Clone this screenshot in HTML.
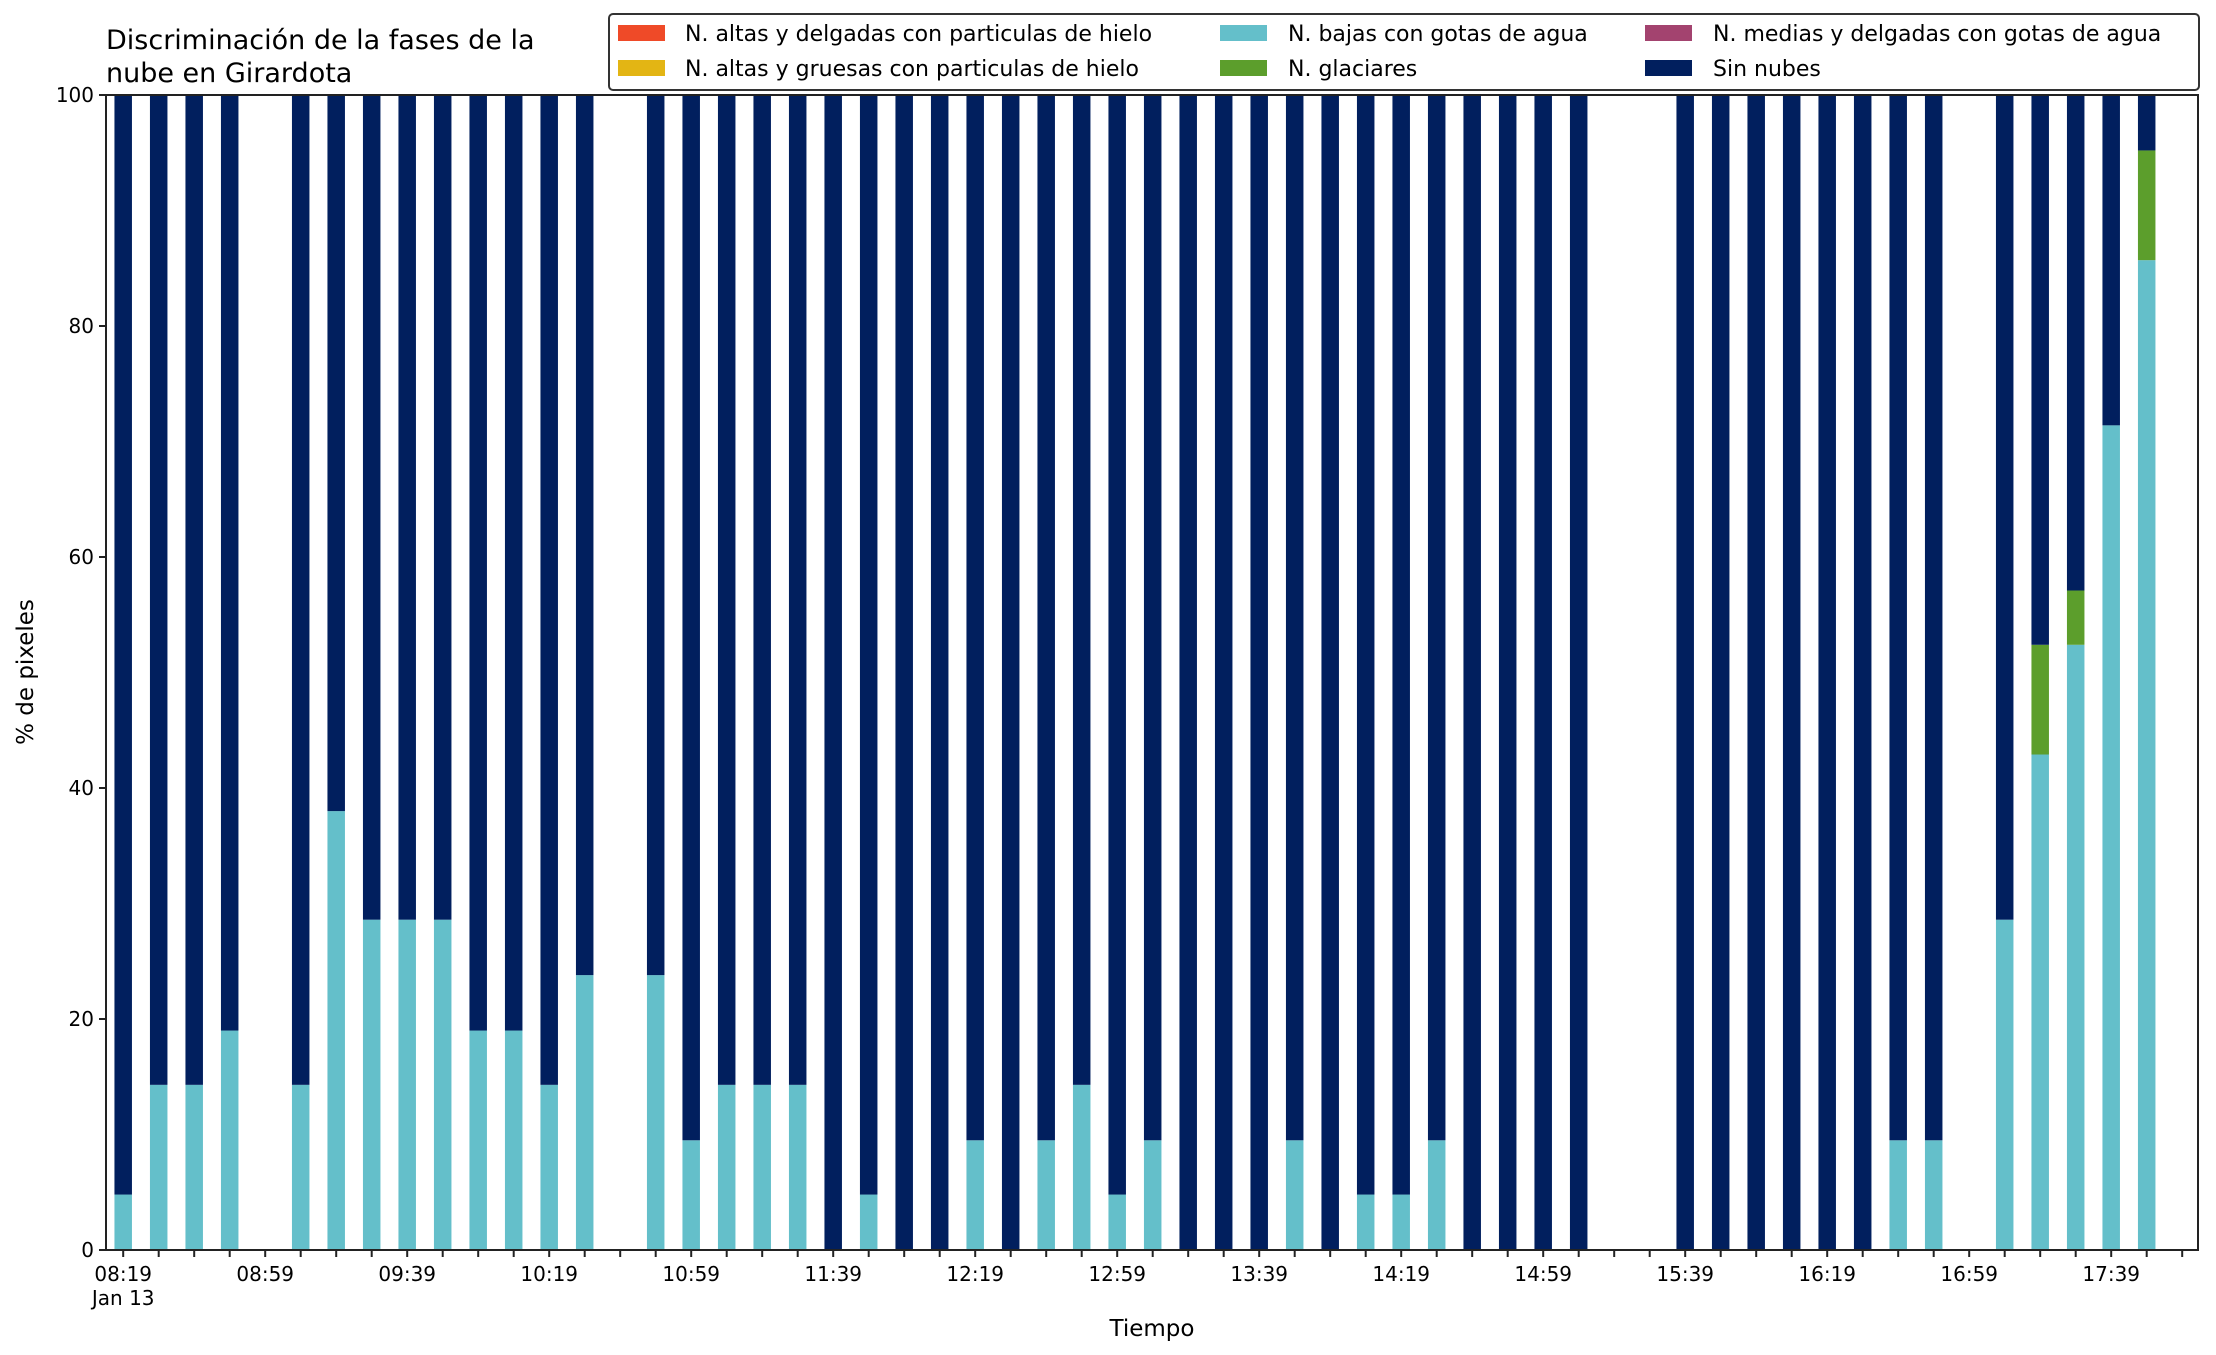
<!DOCTYPE html>
<html><head><meta charset="utf-8"><style>
body{margin:0;background:#fff}
svg{display:block;font-family:"DejaVu Sans","Liberation Sans",sans-serif}
</style></head><body>
<svg id="chart" width="2216" height="1355" xmlns="http://www.w3.org/2000/svg">
<text x="106" y="49" font-size="27">Discriminación de la fases de la</text>
<text x="106" y="82" font-size="27">nube en Girardota</text>
<g id="plot"></g>
<g id="axes"></g>
<text x="1152" y="1336" font-size="23" text-anchor="middle">Tiempo</text>
<text transform="translate(33,672) rotate(-90)" font-size="23" text-anchor="middle">% de pixeles</text>
<g>
<rect x="609" y="14" width="1590" height="76" rx="4" fill="#fff" stroke="#333" stroke-width="2"/>
<g><rect x="618" y="25" width="47" height="16" fill="#ef4a28"/><text x="685" y="41" font-size="22">N. altas y delgadas con particulas de hielo</text></g>
<g><rect x="618" y="60" width="47" height="16" fill="#e3b514"/><text x="685" y="76" font-size="22">N. altas y gruesas con particulas de hielo</text></g>
<g><rect x="1220" y="25" width="47" height="16" fill="#64bfca"/><text x="1288" y="41" font-size="22">N. bajas con gotas de agua</text></g>
<g><rect x="1220" y="60" width="47" height="16" fill="#5c9e2c"/><text x="1288" y="76" font-size="22">N. glaciares</text></g>
<g><rect x="1645" y="25" width="47" height="16" fill="#a3436f"/><text x="1713" y="41" font-size="22">N. medias y delgadas con gotas de agua</text></g>
<g><rect x="1645" y="60" width="47" height="16" fill="#011f5e"/><text x="1713" y="76" font-size="22">Sin nubes</text></g>
</g>
</svg>
<script>
// slot index (10-min steps from 08:19); null = no data
const slots = [];
for (let i = 0; i <= 57; i++) slots.push(i);
const bajas = [4.8,14.3,14.3,19,null,14.3,38,28.6,28.6,28.6,19,19,14.3,23.8,null,23.8,9.5,14.3,14.3,14.3,0,4.8,0,0,9.5,0,9.5,14.3,4.8,9.5,0,0,0,9.5,0,4.8,4.8,9.5,0,0,0,0,null,null,0,0,0,0,0,0,9.5,9.5,null,28.6,42.9,52.4,71.4,85.7];
const glaciares = [0,0,0,0,null,0,0,0,0,0,0,0,0,0,null,0,0,0,0,0,0,0,0,0,0,0,0,0,0,0,0,0,0,0,0,0,0,0,0,0,0,0,null,null,0,0,0,0,0,0,0,0,null,0,9.5,4.7,0,9.5];
const yTicks = [0,20,40,60,80,100];
const xLabels = ["08:19","08:59","09:39","10:19","10:59","11:39","12:19","12:59","13:39","14:19","14:59","15:39","16:19","16:59","17:39"];

const NS = "http://www.w3.org/2000/svg";
const L = 106, R = 2198, T = 95, B = 1250;
const x0 = 123.2, step = 35.5, bw = 17.5;
const xs = i => x0 + i * step;
const ys = v => B - (v / 100) * (B - T);
const plot = document.getElementById('plot');
const axes = document.getElementById('axes');
function mk(tag, attrs, parent) {
  const e = document.createElementNS(NS, tag);
  for (const k in attrs) e.setAttribute(k, attrs[k]);
  parent.appendChild(e);
  return e;
}
slots.forEach((s, i) => {
  const b = bajas[i];
  if (b === null || b === undefined) return;
  const g = glaciares[i] || 0;
  const cx = xs(s) - bw / 2;
  const r1 = mk('rect', {x: cx, y: ys(b), width: bw, height: ys(0) - ys(b), fill: '#64bfca'}, plot);
  
  
  const r2 = mk('rect', {x: cx, y: ys(b + g), width: bw, height: ys(b) - ys(b + g), fill: '#5c9e2c'}, plot);
  
  
  const r3 = mk('rect', {x: cx, y: ys(100), width: bw, height: ys(b + g) - ys(100), fill: '#011f5e'}, plot);
  
  
});
const frame = mk('rect', {x: L, y: T, width: R - L, height: B - T, fill: 'none', stroke: '#222', 'stroke-width': 2}, axes);


yTicks.forEach(v => {
  const t = mk('line', {x1: L - 7, x2: L, y1: ys(v), y2: ys(v), stroke: '#222', 'stroke-width': 2}, axes);
  
  
  const tx = mk('text', {x: L - 12, y: ys(v) + 7, 'font-size': 20, 'text-anchor': 'end'}, axes);
  tx.textContent = v;
  
  
});
for (let i = 0; i <= 58; i++) {
  const t = mk('line', {x1: xs(i), x2: xs(i), y1: B, y2: B + 7, stroke: '#222', 'stroke-width': 2}, axes);
  
  
}
xLabels.forEach((lab, k) => {
  const tx = mk('text', {x: xs(k * 4), y: 1281, 'font-size': 20, 'text-anchor': 'middle'}, axes);
  tx.textContent = lab;
  
  
});
const d = mk('text', {x: xs(0), y: 1305, 'font-size': 20, 'text-anchor': 'middle'}, axes);
d.textContent = 'Jan 13';


</script>
</body></html>
